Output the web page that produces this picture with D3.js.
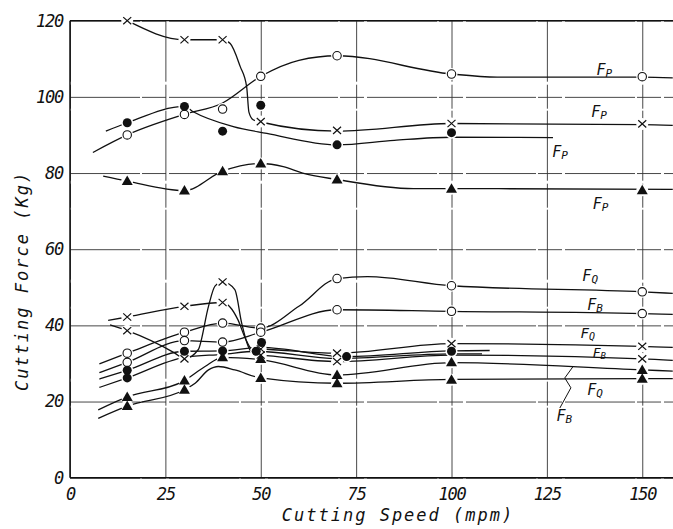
<!DOCTYPE html>
<html>
<head>
<meta charset="utf-8">
<script src="https://cdn.jsdelivr.net/npm/d3@7"></script>
<style>
  body { margin: 0; background: #fff; }
  svg text { font-family: "DejaVu Sans Mono", monospace; font-style: italic; fill: #111; }
</style>
</head>
<body>
<svg id="chart"></svg>
<script>
// tick values
const xTicks = [0, 25, 50, 75, 100, 125, 150];
const yTicks = [0, 20, 40, 60, 80, 100, 120];

// ---- principal force Fp (upper group) ----
const fpCrossPts = [[15,120],[30,115],[40,115],[50,93.5],[70,91.2],[100,93],[150,92.9]];
const fpCrossLine = [[15,120],[30,115],[40,115],[42,114],[44.6,108],[46.3,102.7],[46.9,96],[48,94],[50,93.4],[70,91],[100,93],[150,92.7],[158,92.5]];

const fpOpenPts = [[15,90],[30,95.4],[40,96.8],[50,105.4],[70,110.8],[100,106],[150,105.3]];
const fpOpenLine = [[6,85.4],[15,90],[30,95.4],[40,98.4],[50,105.4],[60,109.6],[70,110.8],[100,106],[112,105.2],[150,105.2],[158,105]];

const fpDotPts = [[15,93.2],[30,97.5],[40,91],[50,97.8],[70,87.4],[100,90.6]];
const fpDotLine = [[9.4,91],[15,93.2],[30,97.5],[32.3,96.1],[42.8,92.2],[51.6,90.4],[70,87.4],[85,88.6],[100,89.4],[126.6,89.3]];

const fpTriPts = [[15,77.9],[30,75.4],[40,80.5],[50,82.5],[70,78.3],[100,75.9],[150,75.5]];
const fpTriLine = [[8.7,79.2],[15,77.9],[30,75.4],[40,80.5],[50,82.5],[55.9,81.7],[61,80],[70,78.3],[90,75.9],[100,75.9],[158,75.7]];

// ---- Fq / Fb (lower group) ----
const fqOpenPts = [[15,32.7],[30,38.2],[40,40.6],[50,39.3],[70,52.3],[100,50.4],[150,48.8]];
const fqOpenLine = [[7.7,29.9],[15,32.7],[30,38.2],[40,40.6],[50,39.3],[60,45],[70,52.3],[78,52.8],[100,50.4],[150,48.8],[158,48.4]];

const fbOpenPts = [[15,30.3],[30,36],[40,35.6],[50,38.2],[70,44.1],[100,43.7],[150,43.1]];
const fbOpenLine = [[7.7,27.6],[15,30.3],[30,36],[40,35.6],[50,38.2],[70,44.1],[100,43.7],[150,43.1],[158,42.9]];

const fqCrossPts = [[15,42.2],[30,45],[40,46],[50,33.8],[70,32.7],[100,35.2],[150,34.5]];
const fqCrossLine = [[10,41.3],[15,42.2],[30,45],[40,46],[44,41.5],[46,36.5],[47.6,33.9],[50,33.8],[70,32.7],[100,35.2],[150,34.5],[158,34.2]];

const fbCrossPts = [[15,38.6],[30,31.2],[40,51.4],[50,32.2],[70,30.5],[150,31.2]];
const fbCrossLine = [[10.5,40.1],[15,38.6],[27.5,32.7],[30,31.2],[33.6,33.6],[36.3,45],[38,50.3],[40,51.4],[43.2,49.4],[45,40.6],[46.7,34.5],[48.5,32.3],[50,32.2],[70,30.5],[100,32.2],[150,31.2],[158,30.8]];

const fqDotPts = [[15,28.2],[30,33.2],[40,33.3],[50.2,35.5],[72.5,31.8],[100,33.2]];
const fqDotLine = [[7.7,25.9],[15,28.2],[30,33.2],[40,33.3],[50,34.2],[72.5,31.8],[100,33.3],[110,33.4]];

const fbDotPts = [[15,26.2],[48.8,33.2]];
const fbDotLine = [[7.7,23.7],[15,26.2],[30,31.6],[40,32.4],[48.8,33.2],[70,31.3],[100,32.5],[108,32.5]];

const fqTriPts = [[15,21.2],[30,25.5],[40,31.6],[50,31.2],[70,27],[100,30.3],[150,28.3]];
const fqTriLine = [[7.4,17.8],[15,21.2],[30,25.5],[35.4,29.2],[40,31.6],[50,31],[70,27],[100,30.2],[150,28.3],[158,28]];

const fbTriPts = [[15,18.8],[30,23.1],[50,26.2],[70,24.8],[100,25.7],[150,26]];
const fbTriLine = [[7.4,15.6],[15,18.8],[30,23.1],[32.8,24.8],[36.3,28.3],[38.9,29.2],[43.2,28.3],[50,26.2],[70,24.8],[100,25.8],[150,26],[158,26]];

// curve labels: component letter, data position
const labelNames = ['P','P','P','P','Q','B','Q','B','Q','B'];
const labelPos = [[138,105.8],[136.6,94.7],[126.4,84.3],[137,70.5],[134.3,51.6],[135.6,44],[133.8,36.6],[137,31.7],[135.6,21.7],[127.5,14.8]];
const labelSizes = [15, 15, 15, 15, 15, 15, 14, 13, 15, 15];
const leaderPts = [[131.8,29.1],[129.7,26.2],[131.3,23.6],[128.4,18.3]];

const series = [
  {mark: 'x', pts: fpCrossPts, line: fpCrossLine},
  {mark: 'o', pts: fpOpenPts, line: fpOpenLine},
  {mark: 'dot', pts: fpDotPts, line: fpDotLine},
  {mark: 'tri', pts: fpTriPts, line: fpTriLine},
  {mark: 'o', pts: fqOpenPts, line: fqOpenLine},
  {mark: 'o', pts: fbOpenPts, line: fbOpenLine},
  {mark: 'x', pts: fqCrossPts, line: fqCrossLine},
  {mark: 'x', pts: fbCrossPts, line: fbCrossLine},
  {mark: 'dot', pts: fqDotPts, line: fqDotLine},
  {mark: 'dot', pts: fbDotPts, line: fbDotLine},
  {mark: 'tri', pts: fqTriPts, line: fqTriLine},
  {mark: 'tri', pts: fbTriPts, line: fbTriLine}
];

const W = 673, H = 529;
const margin = {top: 20.7, left: 70, bottom: 51.3};
const plotH = H - margin.top - margin.bottom;

const svg = d3.select('#chart').attr('width', W).attr('height', H);

const x = d3.scaleLinear().domain([0, 158]).range([margin.left, margin.left + 158 * 3.815]);
const y = d3.scaleLinear().domain([0, 120]).range([H - margin.bottom, margin.top]);

// grid + tick labels via axes
const xAxis = d3.axisBottom(x).tickValues(xTicks).tickSize(-plotH).tickPadding(10.5).tickFormat(d3.format('d'));
const yAxis = d3.axisLeft(y).tickValues(yTicks).tickSize(-(W - margin.left)).tickPadding(7).tickFormat(d3.format('d'));

const gx = svg.append('g').attr('transform', `translate(0,${H - margin.bottom})`).call(xAxis);
const gy = svg.append('g').attr('transform', `translate(${margin.left},0)`).call(yAxis);

[gx, gy].forEach(g => {
  g.select('.domain').remove();
  g.selectAll('.tick line')
    .attr('stroke', '#333')
    .attr('stroke-width', 0.9)
    .attr('stroke-dasharray', '70 2 24 3');
  g.selectAll('.tick text')
    .style('font-size', '17px')
    .style('letter-spacing', '-1.2px')
    .attr('fill', '#111');
});

// frame: left, bottom, top
const frame = svg.append('g').attr('stroke', '#111').attr('stroke-width', 1.5);
frame.append('line').attr('x1', x(0)).attr('x2', x(0)).attr('y1', y(120)).attr('y2', y(0));
frame.append('line').attr('x1', x(0)).attr('x2', W).attr('y1', y(0)).attr('y2', y(0));
frame.append('line').attr('x1', x(0)).attr('x2', W).attr('y1', y(120)).attr('y2', y(120)).attr('stroke-width', 1.3);

// curves
const line = d3.line().x(d => x(d[0])).y(d => y(d[1])).curve(d3.curveMonotoneX);

svg.append('g').selectAll('path')
  .data(series)
  .join('path')
  .attr('d', d => line(d.line))
  .attr('fill', 'none')
  .attr('stroke', '#111')
  .attr('stroke-width', 1.3);

// white halos so lines stop short of the markers
const allPts = series.flatMap(s => s.pts.map(p => ({mark: s.mark, p})));
svg.append('g').selectAll('circle')
  .data(allPts)
  .join('circle')
  .attr('cx', d => x(d.p[0]))
  .attr('cy', d => y(d.p[1]))
  .attr('r', 6)
  .attr('fill', '#fff');

// markers
const marks = svg.append('g').selectAll('g')
  .data(allPts)
  .join('g')
  .attr('transform', d => `translate(${x(d.p[0])},${y(d.p[1])})`);

marks.filter(d => d.mark === 'x').append('path')
  .attr('d', 'M-4,-3.6L4,3.6M-4,3.6L4,-3.6')
  .attr('stroke', '#111').attr('stroke-width', 1.2).attr('fill', 'none');
marks.filter(d => d.mark === 'o').append('circle')
  .attr('r', 4.2).attr('fill', '#fff').attr('stroke', '#111').attr('stroke-width', 1.1);
marks.filter(d => d.mark === 'dot').append('circle')
  .attr('r', 4.5).attr('fill', '#111');
marks.filter(d => d.mark === 'tri').append('path')
  .attr('d', 'M0,-5.5L5.5,4L-5.5,4Z').attr('fill', '#111');

// curve labels
const labels = svg.append('g').selectAll('text')
  .data(labelNames)
  .join('text')
  .attr('x', (d, i) => x(labelPos[i][0]))
  .attr('y', (d, i) => y(labelPos[i][1]));
labels.append('tspan').style('font-size', (d, i) => labelSizes[i] + 'px').text('F');
labels.append('tspan').style('font-size', (d, i) => (labelSizes[i] - 4) + 'px').attr('dy', 2).text(d => d);

svg.append('path')
  .attr('d', d3.line().x(d => x(d[0])).y(d => y(d[1]))(leaderPts))
  .attr('fill', 'none').attr('stroke', '#111').attr('stroke-width', 1);

// axis titles
svg.append('text')
  .attr('x', 398).attr('y', 521)
  .attr('text-anchor', 'middle')
  .style('font-size', '17px')
  .style('letter-spacing', '2px')
  .text('Cutting Speed (mpm)');

svg.append('text')
  .attr('transform', 'translate(28,281) rotate(-90)')
  .attr('text-anchor', 'middle')
  .style('font-size', '17px')
  .style('letter-spacing', '2px')
  .text('Cutting Force (Kg)');
</script>
</body>
</html>
